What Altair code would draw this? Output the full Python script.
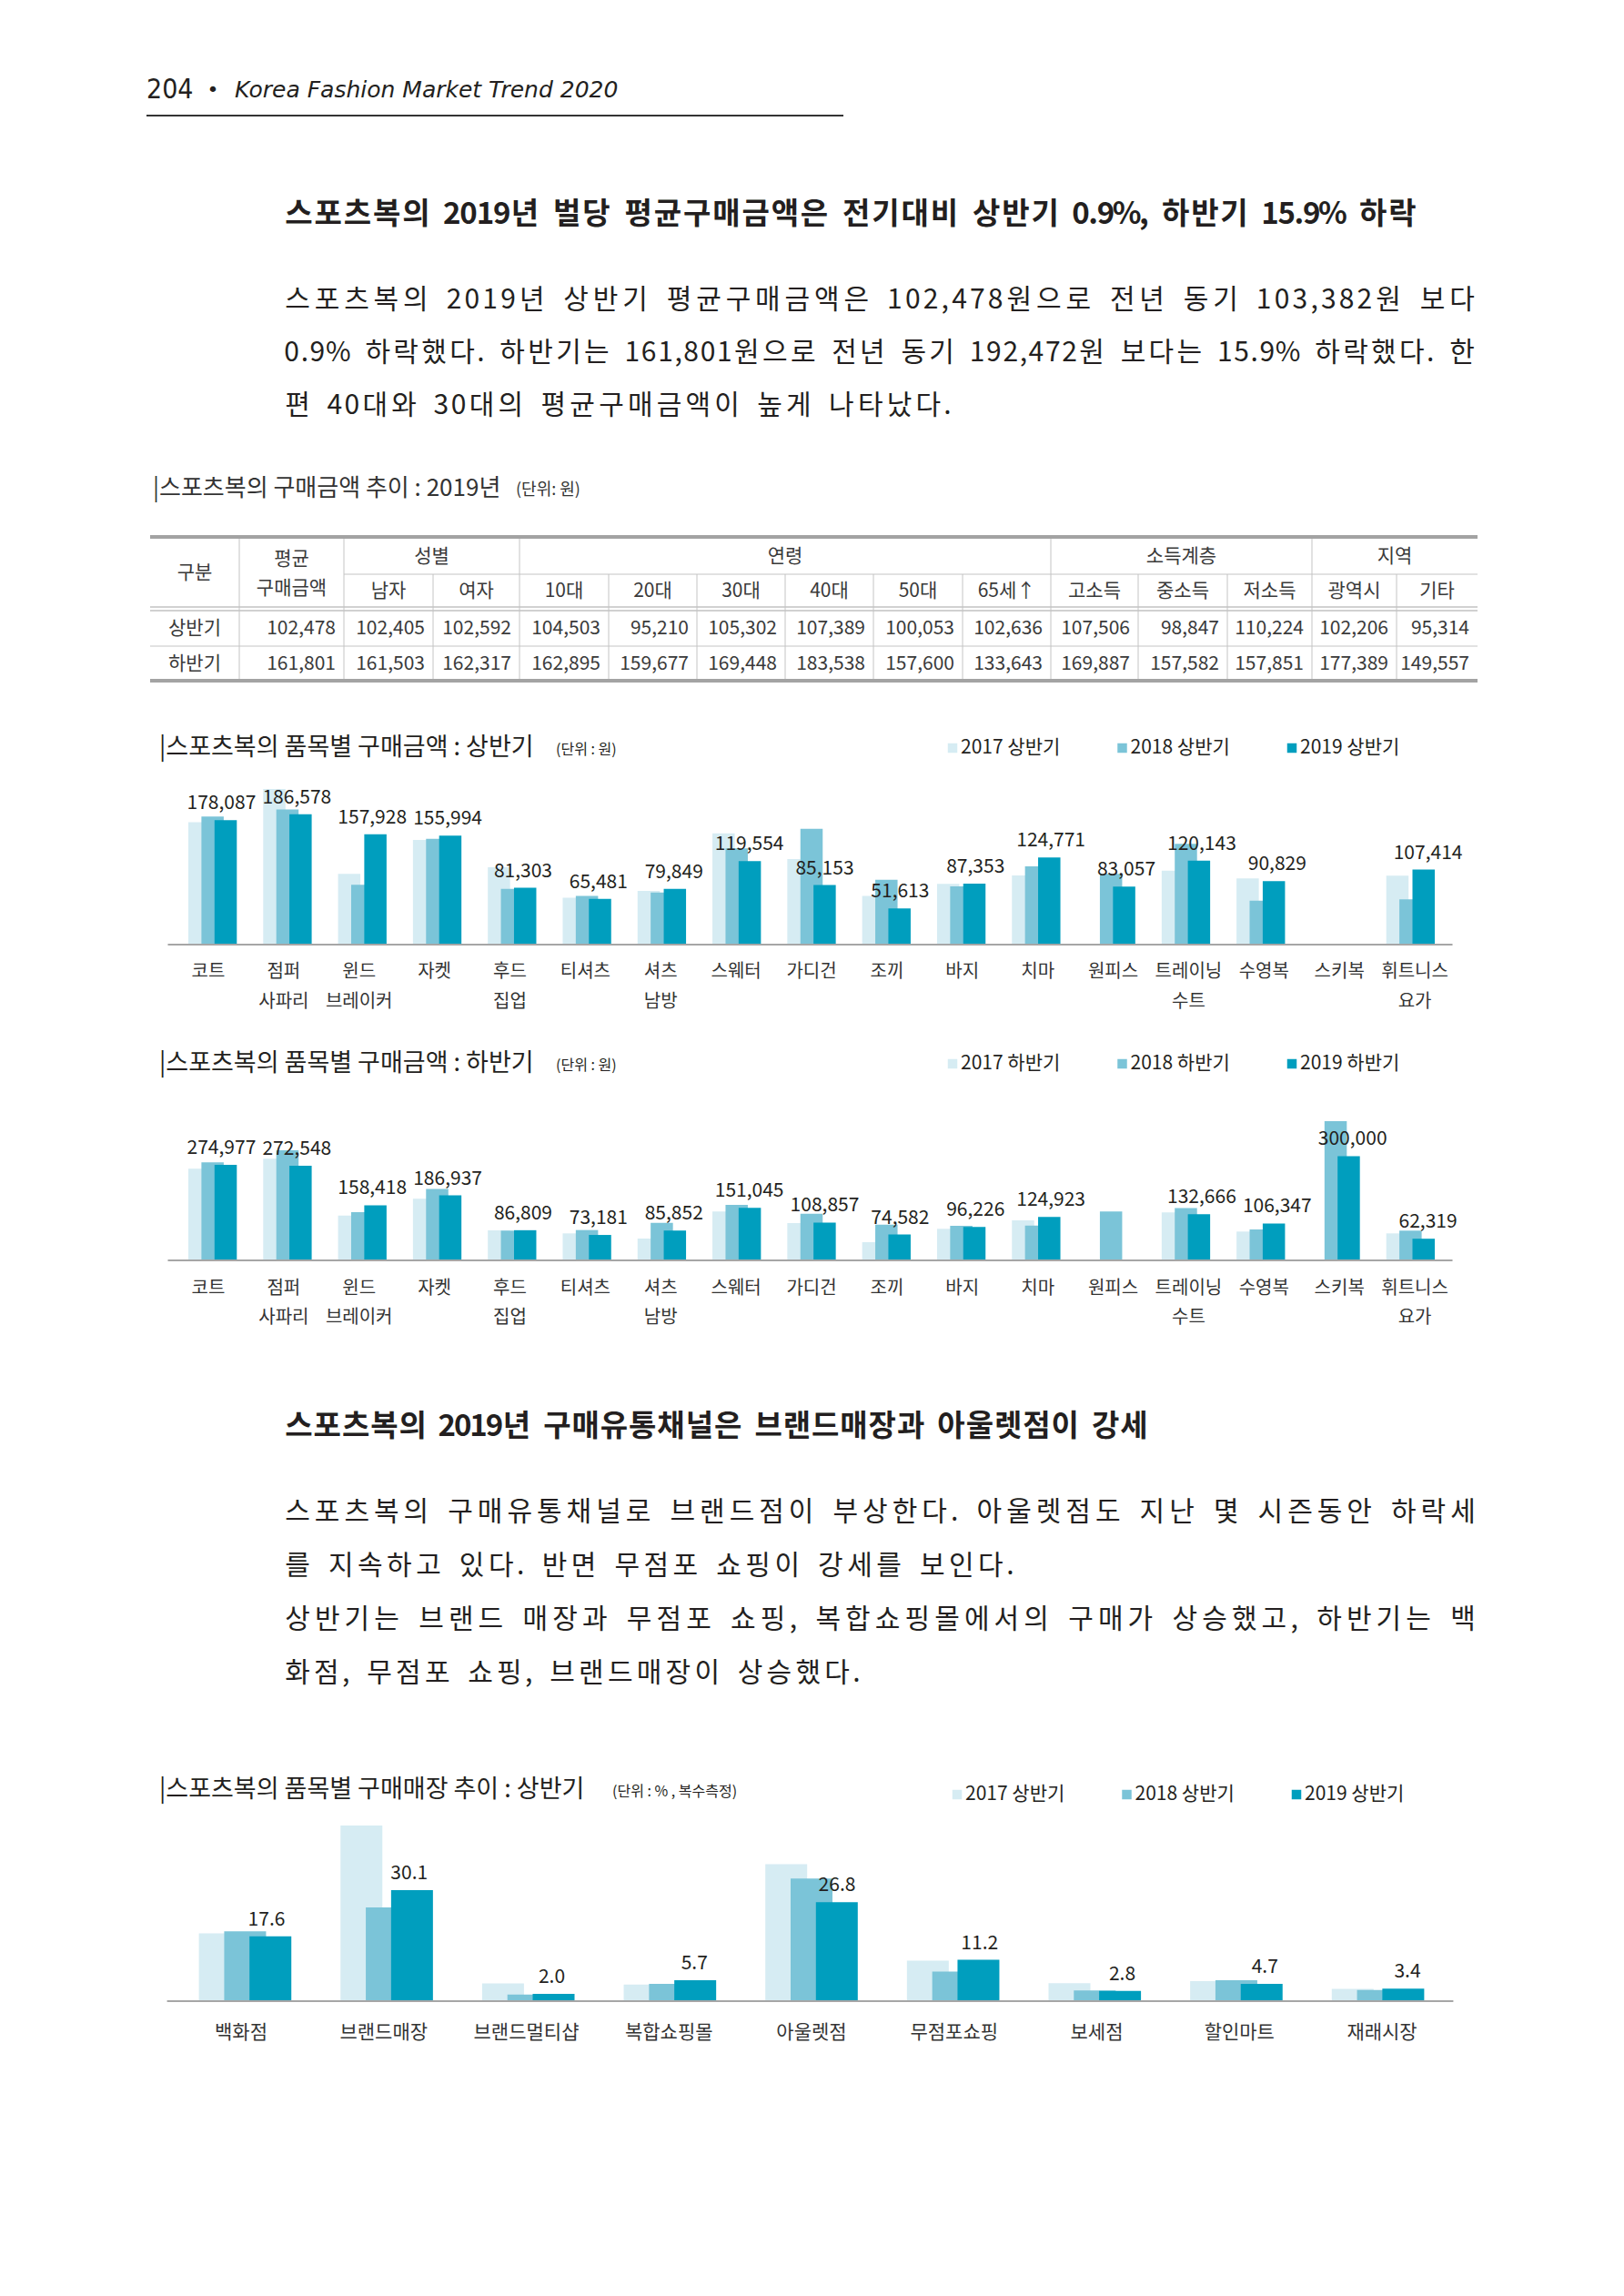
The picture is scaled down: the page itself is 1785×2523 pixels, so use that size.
import altair as alt
import pandas as pd

KR = "Noto Sans CJK KR"
INK = "#231f20"

# ---------------- data ----------------
items = ["코트", "점퍼\n사파리", "윈드\n브레이커", "자켓", "후드\n집업", "티셔츠", "셔츠\n남방",
         "스웨터", "가디건", "조끼", "바지", "치마", "원피스", "트레이닝\n수트", "수영복", "스키복",
         "휘트니스\n요가"]
series_h1 = ["2017 상반기", "2018 상반기", "2019 상반기"]
series_h2 = ["2017 하반기", "2018 하반기", "2019 하반기"]
colors = ["#d6ecf3", "#7bc4d8", "#009ebe"]

h1_2017 = [175000, 222700, 101200, 149800, 110700, 66900, 76800, 159300, 122400, 69500,
           86800, 99000, None, 105900, 94600, None, 98500]
h1_2018 = [183300, 193200, 85500, 151500, 79900, 69500, 74700, 137600, 165800, 92900,
           83300, 112000, 101100, 144100, 62900, None, 64700]
h1_2019 = [178087, 186578, 157928, 155994, 81303, 65481, 79849, 119554, 85153, 51613,
           87353, 124771, 83057, 120143, 90829, None, 107414]

h2_2017 = [263700, 292500, 129200, 177200, 86400, 77700, 62900, 140600, 107400, 52400,
           90800, 115200, None, 137900, 82900, None, 77700]
h2_2018 = [282000, 316900, 138800, 205200, 85600, 87300, 108300, 159800, 134400, 103000,
           99500, 100400, 140600, 150200, 89000, 400700, 85600]
h2_2019 = [274977, 272548, 158418, 186937, 86809, 73181, 85852, 151045, 108857, 74582,
           96226, 124923, None, 132666, 106347, 300000, 62319]

channels = ["백화점", "브랜드매장", "브랜드멀티샵", "복합쇼핑몰", "아울렛점", "무점포쇼핑",
            "보세점", "할인마트", "재래시장"]
ch_2017 = [18.4, 47.6, 4.8, 4.5, 37.1, 11.0, 4.9, 5.4, 3.3]
ch_2018 = [18.9, 25.4, 1.8, 4.7, 33.2, 8.0, 2.9, 5.7, 3.0]
ch_2019 = [17.6, 30.1, 2.0, 5.7, 26.8, 11.2, 2.8, 4.7, 3.4]

table_groups = ["성별", "연령", "소득계층", "지역"]
table_cols = ["남자", "여자", "10대", "20대", "30대", "40대", "50대", "65세↑",
              "고소득", "중소득", "저소득", "광역시", "기타"]
table_rows = ["상반기", "하반기"]
table_h1 = [102478, 102405, 102592, 104503, 95210, 105302, 107389, 100053, 102636,
            107506, 98847, 110224, 102206, 95314]
table_h2 = [161801, 161503, 162317, 162895, 159677, 169448, 183538, 157600, 133643,
            169887, 157582, 157851, 177389, 149557]

title1 = "스포츠복의 2019년 벌당 평균구매금액은 전기대비 상반기 0.9%, 하반기 15.9% 하락"
para1 = ["스포츠복의 2019년 상반기 평균구매금액은 102,478원으로 전년 동기 103,382원 보다",
         "0.9% 하락했다. 하반기는 161,801원으로 전년 동기 192,472원 보다는 15.9% 하락했다. 한",
         "편 40대와 30대의 평균구매금액이 높게 나타났다."]
title2 = "스포츠복의 2019년 구매유통채널은 브랜드매장과 아울렛점이 강세"
para2 = ["스포츠복의 구매유통채널로 브랜드점이 부상한다. 아울렛점도 지난 몇 시즌동안 하락세",
         "를 지속하고 있다. 반면 무점포 쇼핑이 강세를 보인다.",
         "상반기는 브랜드 매장과 무점포 쇼핑, 복합쇼핑몰에서의 구매가 상승했고, 하반기는 백",
         "화점, 무점포 쇼핑, 브랜드매장이 상승했다."]


# ---------------- helpers ----------------
def slot_w(ch):
    if ch == " ":
        return 0.45
    if "\uac00" <= ch <= "\ud7a3":
        return 1.0
    if ch.isdigit():
        return 0.58
    if ch in ",.":
        return 0.3
    if ch == "%":
        return 0.88
    return 0.6


def justify(line, left, right, y, size):
    ws = [slot_w(c) * size for c in line]
    extra = (right - left - sum(ws)) / max(len(line) - 1, 1)
    rows, x = [], left
    for c, w in zip(line, ws):
        if c != " ":
            rows.append({"x": x + w / 2, "y": y, "text": c})
        x += w + extra
    return rows


def text_layer(rows, size, color=INK, weight="normal", align="left", font=KR,
               style="normal", baseline="middle", **kw):
    df = pd.DataFrame(rows)
    return alt.Chart(df).mark_text(font=font, fontSize=size, fontWeight=weight,
                                   fontStyle=style, align=align, baseline=baseline,
                                   color=color, **kw).encode(
        x=alt.X("x:Q", scale=None, axis=None),
        y=alt.Y("y:Q", scale=None, axis=None),
        text=alt.Text("text:N"))


def hrule(x1, x2, y, color, width):
    return alt.Chart(pd.DataFrame({"a": [0]})).mark_rule(color=color, strokeWidth=width).encode(
        x=alt.value(x1), x2=alt.value(x2), y=alt.value(y))


def vrule(x, y1, y2, color, width):
    return alt.Chart(pd.DataFrame({"a": [0]})).mark_rule(color=color, strokeWidth=width).encode(
        x=alt.value(x), y=alt.value(y1), y2=alt.value(y2))


def bar_block(cats, series, values, x0, x1, base, kpx, off_px, bar_w, fmt,
              label_y, label_size, line_h, value_size, legend_x, legend_y):
    n = len(cats)
    step = (x1 - x0) / n
    rows = []
    for k, (s, vals) in enumerate(zip(series, values)):
        for i, v in enumerate(vals):
            if v is None:
                continue
            rows.append({"cat": cats[i], "series": s, "k": k,
                         "pos": i + (k - 1) * off_px / step, "v": v})
    df = pd.DataFrame(rows)
    vmax = float(df["v"].max())
    xs = alt.Scale(domain=[-0.5, n - 0.5], range=[x0, x1], nice=False, zero=False)
    ys = alt.Scale(domain=[0, vmax], range=[base, base - vmax * kpx], nice=False, zero=False)
    cs = alt.Scale(domain=series, range=colors)
    bars = alt.Chart(df).mark_bar(width=bar_w, orient="vertical").encode(
        x=alt.X("pos:Q", scale=xs, axis=None),
        y=alt.Y("v:Q", scale=ys, axis=None),
        y2=alt.datum(0),
        color=alt.Color("series:N", scale=cs, legend=None))
    labels = alt.Chart(df[df["k"] == 2]).mark_text(
        font=KR, fontSize=value_size, color=INK, baseline="alphabetic", dy=-12).encode(
        x=alt.X("pos:Q", scale=xs, axis=None),
        y=alt.Y("v:Q", scale=ys, axis=None),
        text=alt.Text("v:Q", format=fmt))
    cat_df = pd.DataFrame({"pos": list(range(n)), "cat": cats})
    cat_labels = alt.Chart(cat_df).mark_text(
        font=KR, fontSize=label_size, color="#333333", baseline="alphabetic",
        lineBreak="\n", lineHeight=line_h).encode(
        x=alt.X("pos:Q", scale=xs, axis=None),
        y=alt.value(label_y),
        text="cat:N")
    axis_line = hrule(x0 - 3, x1, base, "#a6a6a6", 2)
    leg_df = pd.DataFrame({"series": series, "k": [0, 1, 2]})
    leg_df["x"] = legend_x + leg_df["k"] * 186.5
    leg_df["y"] = legend_y
    leg_df["tx"] = leg_df["x"] + 9
    squares = alt.Chart(leg_df).mark_square(size=110, opacity=1).encode(
        x=alt.X("x:Q", scale=None, axis=None),
        y=alt.Y("y:Q", scale=None, axis=None),
        color=alt.Color("series:N", scale=cs, legend=None))
    leg_text = alt.Chart(leg_df).mark_text(font=KR, fontSize=21, color=INK, align="left",
                                           baseline="middle").encode(
        x=alt.X("tx:Q", scale=None, axis=None),
        y=alt.Y("y:Q", scale=None, axis=None),
        text="series:N")
    return [bars, axis_line, labels, cat_labels, squares, leg_text]


layers = []

# ---------------- header ----------------
layers.append(text_layer([{"x": 161, "y": 99, "text": "204"}], 30,
                         font="DejaVu Sans Condensed, DejaVu Sans"))
layers.append(text_layer([{"x": 234, "y": 99, "text": "•"}], 22, align="center",
                         font="DejaVu Sans"))
layers.append(text_layer([{"x": 258, "y": 99, "text": "Korea Fashion Market Trend 2020"}], 25,
                         font="DejaVu Sans", style="italic"))
layers.append(hrule(161, 927, 127, "#333333", 2))

# ---------------- section 1 text ----------------
layers.append(text_layer(justify(title1, 312, 1558, 236, 33), 33, weight="bold", align="center"))
p1 = []
for line, y, r in zip(para1, [330, 388, 446], [1622, 1622, 1046]):
    p1 += justify(line, 312, r, y, 30)
layers.append(text_layer(p1, 30, align="center"))

# ---------------- table ----------------
layers.append(text_layer([{"x": 168, "y": 537, "text": "|스포츠복의 구매금액 추이 : 2019년"}], 26,
                         color="#333333"))
layers.append(text_layer([{"x": 567, "y": 539, "text": "(단위: 원)"}], 18, color="#333333"))

bounds = [165, 263, 378, 476, 571, 669, 766, 863, 960, 1058, 1155, 1251, 1349, 1442, 1535, 1624]
TL, TR = bounds[0], bounds[-1]
LG = "#a3a3a3"
LL = "#c4c4c4"
layers.append(hrule(TL, TR, 590, LG, 4))
layers.append(hrule(bounds[2], TR, 631, LL, 1))
layers.append(hrule(TL, TR, 667, LG, 1))
layers.append(hrule(TL, TR, 671, LG, 1))
layers.append(hrule(TL, TR, 710, LL, 1))
layers.append(hrule(TL, TR, 748, LG, 4))
for bi in [1, 2, 4, 10, 13]:
    layers.append(vrule(bounds[bi], 592, 746, LL, 1))
for bi in [3, 5, 6, 7, 8, 9, 11, 12, 14]:
    layers.append(vrule(bounds[bi], 631, 746, LL, 1))

group_spans = [(2, 4), (4, 10), (10, 13), (13, 15)]
head = [{"x": (bounds[0] + bounds[1]) / 2, "y": 630, "text": "구분"},
        {"x": (bounds[1] + bounds[2]) / 2, "y": 615, "text": "평균"},
        {"x": (bounds[1] + bounds[2]) / 2, "y": 647, "text": "구매금액"}]
for g, (a, b) in zip(table_groups, group_spans):
    head.append({"x": (bounds[a] + bounds[b]) / 2, "y": 612, "text": g})
for j, c in enumerate(table_cols):
    head.append({"x": (bounds[j + 2] + bounds[j + 3]) / 2, "y": 650, "text": c})
for r, y in zip(table_rows, [691, 730]):
    head.append({"x": (bounds[0] + bounds[1]) / 2, "y": y, "text": r})
layers.append(text_layer(head, 21, color="#3a3a3a", align="center"))

num_rows = []
for vals, y in zip([table_h1, table_h2], [691, 730]):
    for j, v in enumerate(vals):
        num_rows.append({"x": bounds[j + 2] - 9, "y": y, "v": v})
num_df = pd.DataFrame(num_rows)
layers.append(alt.Chart(num_df).mark_text(font=KR, fontSize=21, color="#3a3a3a", align="right",
                                          baseline="middle").encode(
    x=alt.X("x:Q", scale=None, axis=None),
    y=alt.Y("y:Q", scale=None, axis=None),
    text=alt.Text("v:Q", format=",")))

# ---------------- chart 1 ----------------
layers.append(text_layer([{"x": 175, "y": 822, "text": "|스포츠복의 품목별 구매금액 : 상반기"}], 27))
layers.append(text_layer([{"x": 611, "y": 824, "text": "(단위 : 원)"}], 16))
layers += bar_block(items, series_h1, [h1_2017, h1_2018, h1_2019], 187.5, 1596.5, 1038,
                    0.000768, 14.5, 24.5, ",", 1074, 20, 33, 21, 1047, 822)

# ---------------- chart 2 ----------------
layers.append(text_layer([{"x": 175, "y": 1169, "text": "|스포츠복의 품목별 구매금액 : 하반기"}], 27))
layers.append(text_layer([{"x": 611, "y": 1171, "text": "(단위 : 원)"}], 16))
layers += bar_block(items, series_h2, [h2_2017, h2_2018, h2_2019], 187.5, 1596.5, 1385,
                    0.000382, 14.5, 24.5, ",", 1422, 20, 32, 21, 1047, 1169)

# ---------------- section 2 text ----------------
layers.append(text_layer(justify(title2, 312, 1263, 1568, 33), 33, weight="bold", align="center"))
p2 = []
for line, y, r in zip(para2, [1662, 1721, 1780, 1839], [1623, 1115, 1623, 946]):
    p2 += justify(line, 312, r, y, 30)
layers.append(text_layer(p2, 30, align="center"))

# ---------------- chart 3 ----------------
layers.append(text_layer([{"x": 175, "y": 1967, "text": "|스포츠복의 품목별 구매매장 추이 : 상반기"}], 27))
layers.append(text_layer([{"x": 673, "y": 1969, "text": "(단위 : % , 복수측정)"}], 16))
layers += bar_block(channels, series_h1, [ch_2017, ch_2018, ch_2019], 186.6, 1597.4, 2199,
                    4.055, 28, 46, ".1f", 2240, 21, 32, 21, 1052, 1972)

chart = alt.layer(*layers).resolve_scale(
    x="independent", y="independent", color="independent"
).properties(
    width=1785, height=2523, padding=0,
    autosize=alt.AutoSizeParams(type="none"), background="white"
).configure_view(stroke=None)

chart.save("out.html", embed_options={"renderer": "svg", "actions": False})
